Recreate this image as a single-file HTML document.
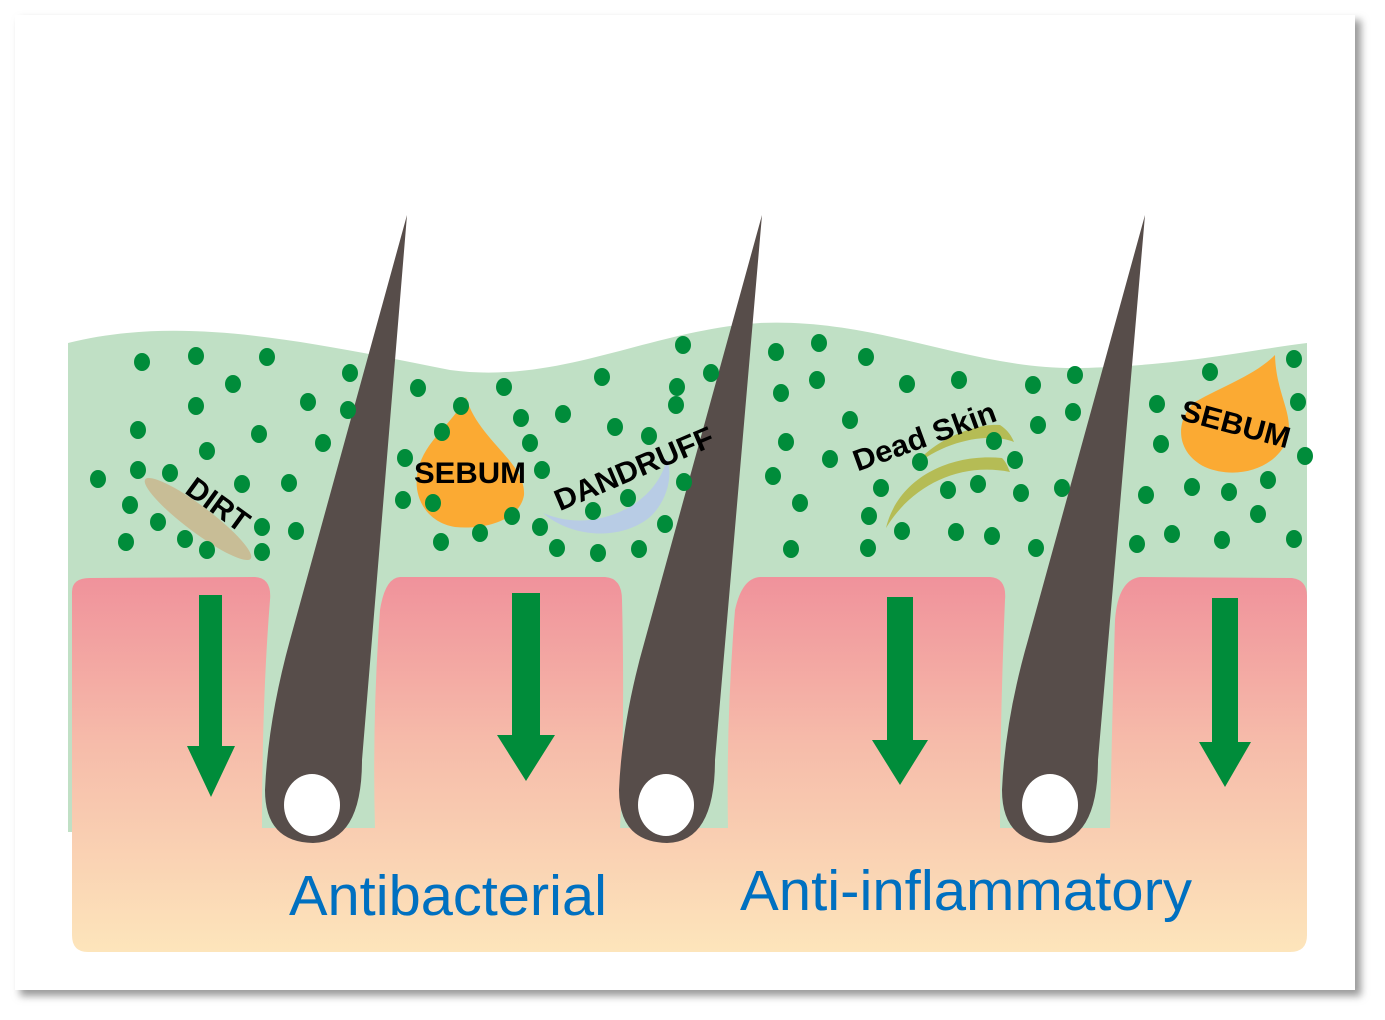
<!DOCTYPE html>
<html><head><meta charset="utf-8"><style>
html,body{margin:0;padding:0;background:#fff;}
svg{display:block;}
</style></head><body>
<svg width="1385" height="1020" viewBox="0 0 1385 1020" xmlns="http://www.w3.org/2000/svg">
<defs>
<linearGradient id="g" gradientUnits="userSpaceOnUse" x1="0" y1="577" x2="0" y2="952">
<stop offset="0" stop-color="#f0929b"/><stop offset="0.45" stop-color="#f6bcaa"/><stop offset="1" stop-color="#fde5bb"/>
</linearGradient>
<filter id="sh" x="-5%" y="-5%" width="110%" height="110%"><feGaussianBlur stdDeviation="4"/></filter>
</defs>
<rect x="20" y="20" width="1341" height="976" fill="#9a9a9a" filter="url(#sh)"/>
<rect x="15" y="15" width="1340" height="975" fill="#fff"/>
<!-- green layer -->
<path d="M68,343 C180,315 300,340 450,370 C560,385 650,330 760,323 C880,318 970,370 1080,368 C1180,366 1250,350 1307,343 L1307,832 L68,832 Z" fill="#c0e0c5"/>
<!-- bottom band -->
<path d="M72,828 L1307,828 L1307,935 Q1307,952 1290,952 L88,952 Q72,952 72,935 Z" fill="url(#g)"/>
<!-- pillars -->
<path d="M72,592 Q72,578 90,578 L255,577 Q272,578 270,600 Q262,700 262,830 L72,830 Z" fill="url(#g)"/>
<path d="M400,577 L605,577 Q622,578 622,600 Q625,720 620,830 L375,830 Q372,720 380,610 Q385,578 400,577 Z" fill="url(#g)"/>
<path d="M760,577 L990,577 Q1007,578 1005,600 Q1000,720 1000,830 L728,830 Q726,720 735,610 Q742,578 760,577 Z" fill="url(#g)"/>
<path d="M1140,577 L1292,578 Q1307,580 1307,596 L1307,830 L1110,830 Q1112,720 1115,620 Q1118,580 1140,577 Z" fill="url(#g)"/>
<!-- hairs -->
<g fill="#574d4a">
<path d="M407,215 L362,760 Q362,842 313,843 Q265,842 265,790 Q268,720 290,640 Z"/>
<path d="M762,215 L715,760 Q715,842 667,843 Q619,842 619,790 Q622,720 645,640 Z"/>
<path d="M1145,215 L1098,760 Q1098,842 1050,843 Q1002,842 1002,790 Q1005,720 1028,640 Z"/>
</g>
<g fill="#fff">
<ellipse cx="312" cy="805" rx="28" ry="31"/>
<ellipse cx="666" cy="805" rx="28" ry="31"/>
<ellipse cx="1050" cy="805" rx="28" ry="31"/>
</g>
<!-- arrows -->
<g fill="#008c3a">
<path d="M199,595 L222,595 L222,746 L235,746 L211,797 L187,746 L199,746 Z"/>
<path d="M512,593 L540,593 L540,735 L555,735 L526,781 L497,735 L512,735 Z"/>
<path d="M887,597 L913,597 L913,740 L928,740 L900,785 L872,740 L887,740 Z"/>
<path d="M1212,598 L1238,598 L1238,742 L1251,742 L1225,787 L1199,742 L1212,742 Z"/>
</g>
<!-- dirt, dandruff, dead skin, sebum -->
<ellipse cx="198" cy="519" rx="66" ry="13" transform="rotate(37 198 519)" fill="#c8bd96"/>
<path d="M543,513 C570,537 620,542 650,517 C668,500 673,475 667,458 C660,490 630,515 590,520 C570,522 555,518 543,513 Z" fill="#b8cce5"/>
<path d="M886,528 C898,478 950,453 1002,458 C1007,463 1008,468 1010,472 C960,462 912,485 886,528 Z" fill="#b5bc55"/>
<path d="M913,467 C933,440 975,423 1000,425 C1008,430 1012,437 1014,442 C990,432 945,440 913,467 Z" fill="#b5bc55"/>
<path d="M466,397 C478,440 526,462 524,495 C520,520 485,530 455,527 C425,522 412,495 418,470 C425,440 452,425 466,397 Z" fill="#fbaa33"/>
<path d="M1275,355 C1276,395 1295,415 1287,440 C1275,470 1235,480 1205,467 C1175,452 1175,420 1195,402 C1225,385 1255,375 1275,355 Z" fill="#fbaa33"/>
<!-- dots -->
<g fill="#008c3a">
<ellipse cx="142" cy="362" rx="8" ry="9"/><ellipse cx="196" cy="356" rx="8" ry="9"/><ellipse cx="267" cy="357" rx="8" ry="9"/><ellipse cx="350" cy="373" rx="8" ry="9"/><ellipse cx="233" cy="384" rx="8" ry="9"/><ellipse cx="196" cy="406" rx="8" ry="9"/><ellipse cx="308" cy="402" rx="8" ry="9"/><ellipse cx="348" cy="410" rx="8" ry="9"/><ellipse cx="138" cy="430" rx="8" ry="9"/><ellipse cx="259" cy="434" rx="8" ry="9"/><ellipse cx="323" cy="443" rx="8" ry="9"/><ellipse cx="207" cy="451" rx="8" ry="9"/><ellipse cx="98" cy="479" rx="8" ry="9"/><ellipse cx="138" cy="470" rx="8" ry="9"/><ellipse cx="170" cy="473" rx="8" ry="9"/><ellipse cx="242" cy="484" rx="8" ry="9"/><ellipse cx="289" cy="483" rx="8" ry="9"/><ellipse cx="130" cy="505" rx="8" ry="9"/><ellipse cx="158" cy="522" rx="8" ry="9"/><ellipse cx="185" cy="539" rx="8" ry="9"/><ellipse cx="126" cy="542" rx="8" ry="9"/><ellipse cx="207" cy="550" rx="8" ry="9"/><ellipse cx="262" cy="527" rx="8" ry="9"/><ellipse cx="262" cy="552" rx="8" ry="9"/><ellipse cx="296" cy="531" rx="8" ry="9"/>
<ellipse cx="418" cy="388" rx="8" ry="9"/><ellipse cx="461" cy="406" rx="8" ry="9"/><ellipse cx="504" cy="387" rx="8" ry="9"/><ellipse cx="442" cy="432" rx="8" ry="9"/><ellipse cx="521" cy="418" rx="8" ry="9"/><ellipse cx="530" cy="443" rx="8" ry="9"/><ellipse cx="405" cy="458" rx="8" ry="9"/><ellipse cx="542" cy="470" rx="8" ry="9"/><ellipse cx="433" cy="503" rx="8" ry="9"/><ellipse cx="403" cy="500" rx="8" ry="9"/><ellipse cx="441" cy="542" rx="8" ry="9"/><ellipse cx="480" cy="533" rx="8" ry="9"/><ellipse cx="512" cy="516" rx="8" ry="9"/><ellipse cx="540" cy="527" rx="8" ry="9"/><ellipse cx="557" cy="548" rx="8" ry="9"/><ellipse cx="598" cy="553" rx="8" ry="9"/><ellipse cx="639" cy="549" rx="8" ry="9"/><ellipse cx="665" cy="524" rx="8" ry="9"/><ellipse cx="602" cy="377" rx="8" ry="9"/><ellipse cx="563" cy="414" rx="8" ry="9"/><ellipse cx="615" cy="427" rx="8" ry="9"/><ellipse cx="649" cy="436" rx="8" ry="9"/><ellipse cx="676" cy="405" rx="8" ry="9"/><ellipse cx="683" cy="345" rx="8" ry="9"/><ellipse cx="711" cy="373" rx="8" ry="9"/><ellipse cx="677" cy="387" rx="8" ry="9"/><ellipse cx="684" cy="482" rx="8" ry="9"/><ellipse cx="628" cy="498" rx="8" ry="9"/><ellipse cx="593" cy="511" rx="8" ry="9"/>
<ellipse cx="776" cy="352" rx="8" ry="9"/><ellipse cx="819" cy="343" rx="8" ry="9"/><ellipse cx="866" cy="357" rx="8" ry="9"/><ellipse cx="781" cy="393" rx="8" ry="9"/><ellipse cx="817" cy="380" rx="8" ry="9"/><ellipse cx="907" cy="384" rx="8" ry="9"/><ellipse cx="959" cy="380" rx="8" ry="9"/><ellipse cx="850" cy="420" rx="8" ry="9"/><ellipse cx="786" cy="442" rx="8" ry="9"/><ellipse cx="830" cy="459" rx="8" ry="9"/><ellipse cx="773" cy="476" rx="8" ry="9"/><ellipse cx="800" cy="503" rx="8" ry="9"/><ellipse cx="791" cy="549" rx="8" ry="9"/><ellipse cx="881" cy="488" rx="8" ry="9"/><ellipse cx="869" cy="516" rx="8" ry="9"/><ellipse cx="902" cy="531" rx="8" ry="9"/><ellipse cx="920" cy="462" rx="8" ry="9"/><ellipse cx="948" cy="490" rx="8" ry="9"/><ellipse cx="978" cy="484" rx="8" ry="9"/><ellipse cx="994" cy="441" rx="8" ry="9"/><ellipse cx="1015" cy="460" rx="8" ry="9"/><ellipse cx="1021" cy="493" rx="8" ry="9"/><ellipse cx="956" cy="532" rx="8" ry="9"/><ellipse cx="992" cy="536" rx="8" ry="9"/><ellipse cx="1036" cy="548" rx="8" ry="9"/><ellipse cx="868" cy="548" rx="8" ry="9"/><ellipse cx="1033" cy="385" rx="8" ry="9"/><ellipse cx="1075" cy="375" rx="8" ry="9"/><ellipse cx="1038" cy="425" rx="8" ry="9"/><ellipse cx="1073" cy="412" rx="8" ry="9"/><ellipse cx="1062" cy="488" rx="8" ry="9"/>
<ellipse cx="1210" cy="372" rx="8" ry="9"/><ellipse cx="1294" cy="359" rx="8" ry="9"/><ellipse cx="1298" cy="402" rx="8" ry="9"/><ellipse cx="1157" cy="404" rx="8" ry="9"/><ellipse cx="1161" cy="444" rx="8" ry="9"/><ellipse cx="1305" cy="456" rx="8" ry="9"/><ellipse cx="1146" cy="495" rx="8" ry="9"/><ellipse cx="1192" cy="487" rx="8" ry="9"/><ellipse cx="1229" cy="492" rx="8" ry="9"/><ellipse cx="1268" cy="480" rx="8" ry="9"/><ellipse cx="1258" cy="514" rx="8" ry="9"/><ellipse cx="1137" cy="544" rx="8" ry="9"/><ellipse cx="1172" cy="534" rx="8" ry="9"/><ellipse cx="1222" cy="540" rx="8" ry="9"/><ellipse cx="1294" cy="539" rx="8" ry="9"/>
</g>
<!-- labels -->
<g font-family="Liberation Sans, sans-serif" font-weight="bold" fill="#000" text-anchor="middle">
<text x="0" y="0" font-size="30" transform="translate(212,513) rotate(36)">DIRT</text>
<text x="470" y="483" font-size="30" textLength="112" lengthAdjust="spacingAndGlyphs">SEBUM</text>
<text x="0" y="0" font-size="30" transform="translate(638,478) rotate(-23)" textLength="170" lengthAdjust="spacingAndGlyphs">DANDRUFF</text>
<text x="0" y="0" font-size="30" transform="translate(928,446) rotate(-20)" textLength="150" lengthAdjust="spacingAndGlyphs">Dead Skin</text>
<text x="0" y="0" font-size="30" transform="translate(1233,434) rotate(15)" textLength="112" lengthAdjust="spacingAndGlyphs">SEBUM</text>
</g>
<g font-family="Liberation Sans, sans-serif" fill="#0070c0" font-size="57">
<text x="289" y="915" textLength="318" lengthAdjust="spacingAndGlyphs">Antibacterial</text>
<text x="740" y="910" textLength="452" lengthAdjust="spacingAndGlyphs">Anti-inflammatory</text>
</g>
</svg>
</body></html>
